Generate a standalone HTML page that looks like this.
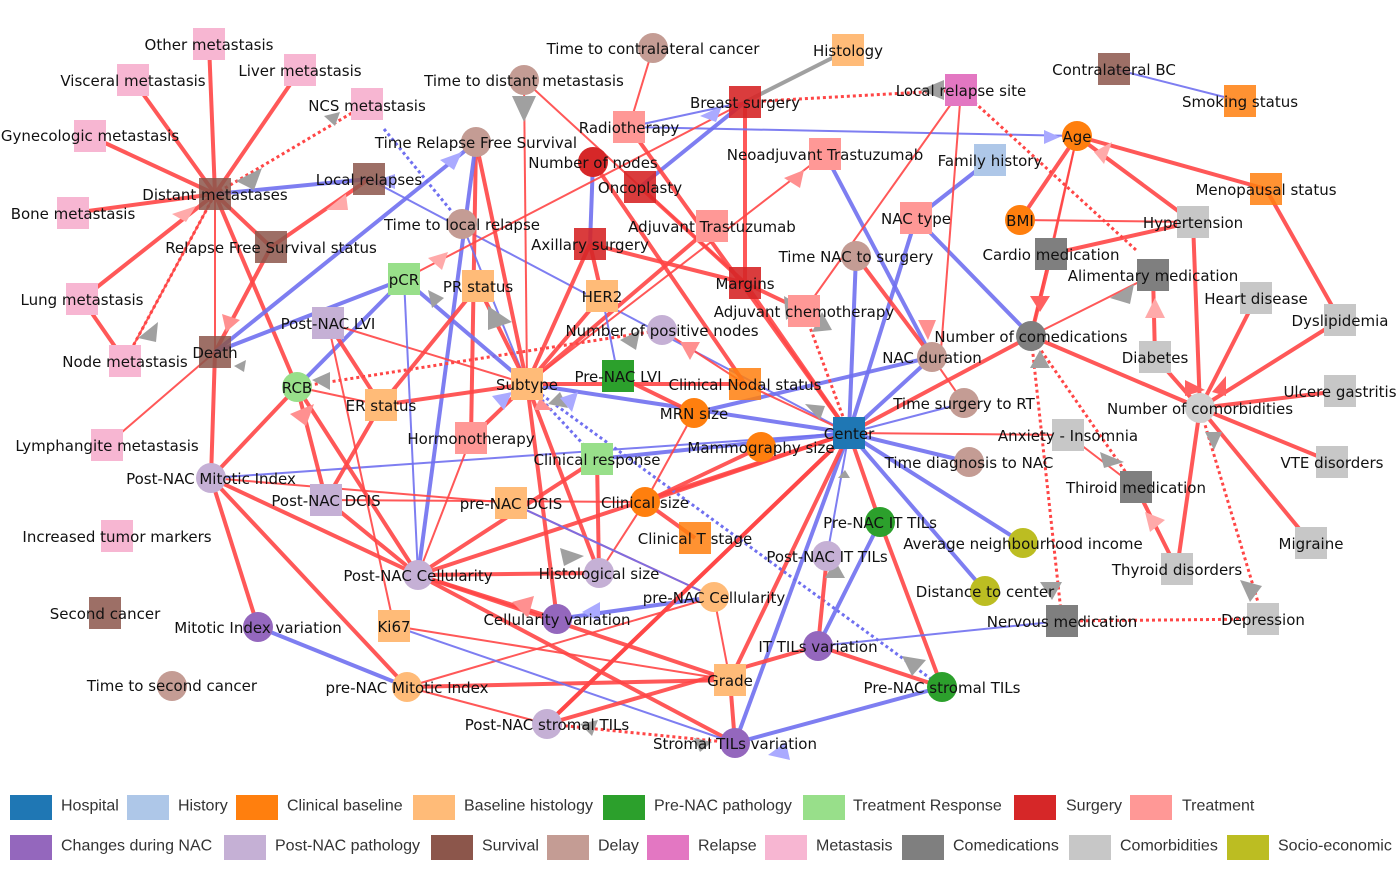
<!DOCTYPE html>
<html><head><meta charset="utf-8"><style>
html,body{margin:0;padding:0;background:#fff;}
svg{display:block}
.r{stroke:#ff4646;stroke-width:4;opacity:.9}
.r2{stroke:#ff4646;stroke-width:2;opacity:.9}
.b{stroke:#7070f0;stroke-width:4;opacity:.9}
.b2{stroke:#7070f0;stroke-width:2;opacity:.9}
.d{stroke:#ff4646;stroke-width:3;stroke-dasharray:3 3}
.bd{stroke:#7070f0;stroke-width:3;stroke-dasharray:3 3}
.g{stroke:#a0a0a0;stroke-width:4}
text{font-family:"DejaVu Sans",sans-serif;font-size:15px;fill:#111;text-anchor:middle;dominant-baseline:central}
.lg text{font-family:"Liberation Sans",sans-serif;font-size:16px;text-anchor:start;fill:#333}
</style></head><body>
<svg width="1400" height="872" viewBox="0 0 1400 872">
<g fill="none">
<line class="r" x1="209" y1="44" x2="215" y2="194"/>
<line class="r" x1="133" y1="80" x2="215" y2="194"/>
<line class="r" x1="300" y1="70" x2="215" y2="194"/>
<line class="r" x1="90" y1="136" x2="215" y2="194"/>
<line class="r" x1="73" y1="213" x2="215" y2="194"/>
<line class="r" x1="82" y1="299" x2="215" y2="194"/>
<line class="r" x1="82" y1="299" x2="125" y2="361"/>
<line class="d" x1="125" y1="361" x2="215" y2="194"/>
<line class="d" x1="367" y1="104" x2="215" y2="194"/>
<line class="r" x1="215" y1="194" x2="297" y2="387"/>
<line class="r2" x1="215" y1="194" x2="215" y2="352"/>
<line class="r" x1="215" y1="194" x2="271" y2="247"/>
<line class="b" x1="215" y1="194" x2="369" y2="179"/>
<line class="r2" x1="107" y1="445" x2="215" y2="352"/>
<line class="r" x1="215" y1="352" x2="211" y2="478"/>
<line class="r" x1="215" y1="352" x2="271" y2="247"/>
<line class="r" x1="271" y1="247" x2="369" y2="179"/>
<line class="b2" x1="369" y1="179" x2="849" y2="433"/>
<line class="bd" x1="384" y1="129" x2="462" y2="224"/>
<line class="b" x1="215" y1="352" x2="476" y2="142"/>
<line class="b" x1="297" y1="387" x2="404" y2="279"/>
<line class="b" x1="215" y1="352" x2="404" y2="279"/>
<line class="r" x1="476" y1="142" x2="527" y2="384"/>
<line class="r" x1="476" y1="142" x2="471" y2="438"/>
<line class="b" x1="476" y1="142" x2="418" y2="575"/>
<line class="b2" x1="462" y1="224" x2="527" y2="384"/>
<line class="r2" x1="524" y1="80" x2="745" y2="283"/>
<line class="r2" x1="524" y1="80" x2="527" y2="384"/>
<line class="g" x1="848" y1="50" x2="745" y2="102"/>
<line class="d" x1="745" y1="102" x2="961" y2="90"/>
<line class="r" x1="745" y1="102" x2="745" y2="283"/>
<line class="b" x1="745" y1="102" x2="640" y2="187"/>
<line class="b2" x1="629" y1="127" x2="745" y2="102"/>
<line class="b2" x1="629" y1="127" x2="1077" y2="136"/>
<line class="r2" x1="653" y1="48" x2="629" y2="127"/>
<line class="r" x1="629" y1="127" x2="849" y2="433"/>
<line class="b2" x1="1114" y1="69" x2="1240" y2="101"/>
<line class="r" x1="1077" y1="136" x2="1266" y2="189"/>
<line class="r" x1="1077" y1="136" x2="1020" y2="220"/>
<line class="r" x1="1077" y1="136" x2="1193" y2="222"/>
<line class="r2" x1="1077" y1="136" x2="1031" y2="336"/>
<line class="r2" x1="1077" y1="136" x2="1051" y2="254"/>
<line class="r" x1="1266" y1="189" x2="1340" y2="320"/>
<line class="r2" x1="1020" y1="220" x2="1193" y2="222"/>
<line class="r" x1="1193" y1="222" x2="1051" y2="254"/>
<line class="r" x1="1193" y1="222" x2="1200" y2="408"/>
<line class="r" x1="1051" y1="254" x2="1031" y2="336"/>
<line class="r2" x1="1031" y1="336" x2="1153" y2="275"/>
<line class="r" x1="1155" y1="357" x2="1153" y2="275"/>
<line class="r" x1="1200" y1="408" x2="1256" y2="298"/>
<line class="r" x1="1200" y1="408" x2="1340" y2="320"/>
<line class="r" x1="1200" y1="408" x2="1340" y2="391"/>
<line class="r" x1="1200" y1="408" x2="1332" y2="462"/>
<line class="r" x1="1200" y1="408" x2="1311" y2="543"/>
<line class="r" x1="1200" y1="408" x2="1177" y2="569"/>
<line class="r" x1="1200" y1="408" x2="1155" y2="357"/>
<line class="r" x1="1200" y1="408" x2="1031" y2="336"/>
<line class="d" x1="1200" y1="408" x2="1263" y2="619"/>
<line class="r2" x1="1068" y1="435" x2="1136" y2="487"/>
<line class="d" x1="1031" y1="336" x2="1062" y2="621"/>
<line class="d" x1="1031" y1="336" x2="1136" y2="487"/>
<line class="d" x1="1062" y1="621" x2="1263" y2="619"/>
<line class="r" x1="1177" y1="569" x2="1136" y2="487"/>
<line class="r2" x1="849" y1="433" x2="1068" y2="435"/>
<line class="r" x1="849" y1="433" x2="1031" y2="336"/>
<line class="b" x1="849" y1="433" x2="916" y2="218"/>
<line class="b" x1="849" y1="433" x2="856" y2="256"/>
<line class="b" x1="849" y1="433" x2="932" y2="357"/>
<line class="b2" x1="849" y1="433" x2="964" y2="403"/>
<line class="b" x1="849" y1="433" x2="969" y2="462"/>
<line class="b" x1="849" y1="433" x2="985" y2="591"/>
<line class="b" x1="849" y1="433" x2="1023" y2="543"/>
<line class="b" x1="849" y1="433" x2="527" y2="384"/>
<line class="b" x1="849" y1="433" x2="597" y2="459"/>
<line class="b" x1="849" y1="433" x2="735" y2="743"/>
<line class="b2" x1="849" y1="433" x2="827" y2="556"/>
<line class="b2" x1="849" y1="433" x2="211" y2="478"/>
<line class="b" x1="932" y1="357" x2="694" y2="413"/>
<line class="b" x1="916" y1="218" x2="990" y2="160"/>
<line class="b" x1="916" y1="218" x2="1031" y2="336"/>
<line class="b" x1="825" y1="154" x2="932" y2="357"/>
<line class="r" x1="856" y1="256" x2="932" y2="357"/>
<line class="r2" x1="964" y1="403" x2="932" y2="357"/>
<line class="r" x1="849" y1="433" x2="745" y2="283"/>
<line class="d" x1="849" y1="433" x2="804" y2="311"/>
<line class="r" x1="849" y1="433" x2="645" y2="502"/>
<line class="r" x1="849" y1="433" x2="547" y2="724"/>
<line class="r" x1="849" y1="433" x2="730" y2="680"/>
<line class="r" x1="849" y1="433" x2="418" y2="575"/>
<line class="r" x1="849" y1="433" x2="880" y2="522"/>
<line class="r2" x1="849" y1="433" x2="745" y2="384"/>
<line class="r" x1="745" y1="283" x2="804" y2="311"/>
<line class="r" x1="745" y1="283" x2="590" y2="244"/>
<line class="r" x1="590" y1="244" x2="602" y2="296"/>
<line class="r" x1="590" y1="244" x2="527" y2="384"/>
<line class="b" x1="590" y1="244" x2="593" y2="162"/>
<line class="r" x1="593" y1="162" x2="745" y2="384"/>
<line class="r" x1="640" y1="187" x2="745" y2="283"/>
<line class="r" x1="527" y1="384" x2="712" y2="226"/>
<line class="r2" x1="527" y1="384" x2="825" y2="154"/>
<line class="r2" x1="404" y1="279" x2="745" y2="102"/>
<line class="r" x1="527" y1="384" x2="381" y2="405"/>
<line class="r" x1="527" y1="384" x2="478" y2="286"/>
<line class="r" x1="527" y1="384" x2="602" y2="296"/>
<line class="r" x1="527" y1="384" x2="471" y2="438"/>
<line class="r" x1="527" y1="384" x2="599" y2="573"/>
<line class="r" x1="527" y1="384" x2="557" y2="619"/>
<line class="r2" x1="527" y1="384" x2="328" y2="323"/>
<line class="d" x1="297" y1="387" x2="662" y2="330"/>
<line class="r" x1="527" y1="384" x2="745" y2="384"/>
<line class="b" x1="527" y1="384" x2="404" y2="279"/>
<line class="bd" x1="527" y1="384" x2="942" y2="687"/>
<line class="bd" x1="597" y1="459" x2="527" y2="384"/>
<line class="b2" x1="602" y1="296" x2="618" y2="376"/>
<line class="r" x1="618" y1="376" x2="694" y2="413"/>
<line class="r2" x1="745" y1="384" x2="662" y2="330"/>
<line class="b2" x1="404" y1="279" x2="418" y2="575"/>
<line class="r" x1="381" y1="405" x2="478" y2="286"/>
<line class="r" x1="381" y1="405" x2="326" y2="500"/>
<line class="r2" x1="381" y1="405" x2="297" y2="387"/>
<line class="r" x1="297" y1="387" x2="326" y2="500"/>
<line class="r" x1="297" y1="387" x2="418" y2="575"/>
<line class="r" x1="297" y1="387" x2="211" y2="478"/>
<line class="r" x1="328" y1="323" x2="381" y2="405"/>
<line class="r" x1="418" y1="575" x2="599" y2="573"/>
<line class="r" x1="418" y1="575" x2="557" y2="619"/>
<line class="r" x1="418" y1="575" x2="730" y2="680"/>
<line class="r" x1="418" y1="575" x2="211" y2="478"/>
<line class="r" x1="418" y1="575" x2="326" y2="500"/>
<line class="r" x1="418" y1="575" x2="597" y2="459"/>
<line class="r" x1="418" y1="575" x2="735" y2="743"/>
<line class="r2" x1="418" y1="575" x2="471" y2="438"/>
<line class="r2" x1="326" y1="500" x2="645" y2="502"/>
<line class="r" x1="211" y1="478" x2="258" y2="627"/>
<line class="r" x1="211" y1="478" x2="407" y2="687"/>
<line class="r2" x1="211" y1="478" x2="511" y2="503"/>
<line class="b" x1="258" y1="627" x2="407" y2="687"/>
<line class="r" x1="407" y1="687" x2="730" y2="680"/>
<line class="r2" x1="407" y1="687" x2="547" y2="724"/>
<line class="r2" x1="407" y1="687" x2="714" y2="597"/>
<line class="r2" x1="394" y1="626" x2="730" y2="680"/>
<line class="b2" x1="394" y1="626" x2="735" y2="743"/>
<line class="r2" x1="394" y1="626" x2="328" y2="323"/>
<line class="r2" x1="645" y1="502" x2="694" y2="413"/>
<line class="r" x1="645" y1="502" x2="761" y2="447"/>
<line class="r" x1="645" y1="502" x2="695" y2="538"/>
<line class="r2" x1="645" y1="502" x2="599" y2="573"/>
<line class="r" x1="597" y1="459" x2="599" y2="573"/>
<line class="r2" x1="511" y1="503" x2="714" y2="597"/>
<line class="b2" x1="511" y1="503" x2="714" y2="597"/>
<line class="r2" x1="714" y1="597" x2="730" y2="680"/>
<line class="b" x1="714" y1="597" x2="557" y2="619"/>
<line class="r" x1="942" y1="687" x2="818" y2="646"/>
<line class="r" x1="942" y1="687" x2="880" y2="522"/>
<line class="b" x1="942" y1="687" x2="735" y2="743"/>
<line class="b" x1="818" y1="646" x2="880" y2="522"/>
<line class="r" x1="818" y1="646" x2="827" y2="556"/>
<line class="b2" x1="818" y1="646" x2="1062" y2="621"/>
<line class="r" x1="818" y1="646" x2="547" y2="724"/>
<line class="r" x1="735" y1="743" x2="730" y2="680"/>
<line class="d" x1="547" y1="724" x2="735" y2="743"/>
<line class="r" x1="547" y1="724" x2="849" y2="433"/>
<line class="r2" x1="125" y1="361" x2="215" y2="194"/>
<line class="d" x1="961" y1="90" x2="1136" y2="250"/>
<line class="r2" x1="961" y1="90" x2="941" y2="350"/>
<line class="r2" x1="804" y1="311" x2="961" y2="90"/>
</g>
<g>
<polygon fill="#a0a0a0" points="236,181 262,168 254,190"/>
<polygon fill="#a0a0a0" points="324,116 335,126 340,112"/>
<polygon fill="#a0a0a0" points="138,338 158,322 156,342"/>
<polygon fill="#ffaaaa" points="326,210 346,194 348,210"/>
<polygon fill="#aaaaff" points="440,160 462,152 454,170"/>
<polygon fill="#a0a0a0" points="512,96 536,96 524,122"/>
<polygon fill="#aaaaff" points="700,116 722,106 716,122"/>
<polygon fill="#a0a0a0" points="920,90 944,80 944,100"/>
<polygon fill="#aaaaff" points="1044,130 1060,137 1044,144"/>
<polygon fill="#ffaaaa" points="1094,152 1112,142 1104,164"/>
<polygon fill="#a0a0a0" points="1110,298 1134,284 1130,304"/>
<polygon fill="#ffaaaa" points="1145,318 1165,318 1155,298"/>
<polygon fill="#ff6060" points="1030,296 1050,296 1040,312"/>
<polygon fill="#a0a0a0" points="1030,368 1050,368 1040,350"/>
<polygon fill="#ffaaaa" points="1145,512 1165,520 1150,532"/>
<polygon fill="#a0a0a0" points="1100,452 1124,462 1104,468"/>
<polygon fill="#a0a0a0" points="1040,582 1062,582 1052,600"/>
<polygon fill="#a0a0a0" points="1240,580 1262,586 1250,602"/>
<polygon fill="#ff6060" points="1185,380 1205,390 1185,396"/>
<polygon fill="#ff6060" points="1226,376 1226,396 1212,392"/>
<polygon fill="#a0a0a0" points="1205,432 1222,432 1214,450"/>
<polygon fill="#ff9090" points="918,320 936,320 928,340"/>
<polygon fill="#a0a0a0" points="812,332 832,330 822,312"/>
<polygon fill="#a0a0a0" points="805,404 825,406 820,420"/>
<polygon fill="#a0a0a0" points="488,306 512,322 488,330"/>
<polygon fill="#a0a0a0" points="428,290 444,298 432,308"/>
<polygon fill="#ff9090" points="222,314 240,320 226,332"/>
<polygon fill="#a0a0a0" points="312,380 330,372 330,390"/>
<polygon fill="#a0a0a0" points="234,366 246,360 244,372"/>
<polygon fill="#ffaaaa" points="172,214 196,206 186,222"/>
<polygon fill="#ff9090" points="290,414 314,404 306,426"/>
<polygon fill="#aaaaff" points="492,396 512,392 504,410"/>
<polygon fill="#a0a0a0" points="548,404 560,392 568,408"/>
<polygon fill="#aaaaff" points="560,398 578,392 572,412"/>
<polygon fill="#a0a0a0" points="620,340 640,330 636,350"/>
<polygon fill="#ff9090" points="680,342 700,342 690,360"/>
<polygon fill="#a0a0a0" points="560,548 584,556 564,566"/>
<polygon fill="#ff9090" points="512,602 534,596 528,618"/>
<polygon fill="#aaaaff" points="582,612 600,602 600,622"/>
<polygon fill="#a0a0a0" points="902,656 926,660 912,676"/>
<polygon fill="#a0a0a0" points="580,724 598,720 592,736"/>
<polygon fill="#a0a0a0" points="694,738 712,742 700,752"/>
<polygon fill="#aaaaff" points="768,755 786,742 790,760"/>
<polygon fill="#a0a0a0" points="784,296 804,308 786,320"/>
<polygon fill="#ff9090" points="784,178 804,170 800,188"/>
<polygon fill="#ffaaaa" points="428,258 448,252 442,270"/>
<polygon fill="#aaaaff" points="375,181 395,174 395,189"/>
<polygon fill="#a0a0a0" points="825,578 845,578 835,560"/>
<polygon fill="#a0a0a0" points="838,478 850,478 845,470"/>
<polygon fill="#ff9090" points="540,398 552,410 534,410"/>
</g>
<g>
<rect x="193" y="28" width="32" height="32" fill="#f7b6d2"/>
<rect x="117" y="64" width="32" height="32" fill="#f7b6d2"/>
<rect x="284" y="54" width="32" height="32" fill="#f7b6d2"/>
<rect x="351" y="88" width="32" height="32" fill="#f7b6d2"/>
<rect x="74" y="120" width="32" height="32" fill="#f7b6d2"/>
<rect x="199" y="178" width="32" height="32" fill="#8c564b" opacity=".85"/>
<rect x="57" y="197" width="32" height="32" fill="#f7b6d2"/>
<rect x="255" y="231" width="32" height="32" fill="#8c564b" opacity=".85"/>
<rect x="353" y="163" width="32" height="32" fill="#8c564b" opacity=".85"/>
<rect x="66" y="283" width="32" height="32" fill="#f7b6d2"/>
<rect x="109" y="345" width="32" height="32" fill="#f7b6d2"/>
<rect x="199" y="336" width="32" height="32" fill="#8c564b" opacity=".85"/>
<rect x="91" y="429" width="32" height="32" fill="#f7b6d2"/>
<rect x="101" y="520" width="32" height="32" fill="#f7b6d2"/>
<rect x="89" y="597" width="32" height="32" fill="#8c564b" opacity=".85"/>
<circle cx="172" cy="686" r="15" fill="#c49c94"/>
<circle cx="211" cy="478" r="15" fill="#c5b0d5"/>
<circle cx="258" cy="627" r="15" fill="#9467bd"/>
<circle cx="297" cy="387" r="15" fill="#98df8a"/>
<rect x="312" y="307" width="32" height="32" fill="#c5b0d5"/>
<rect x="388" y="263" width="32" height="32" fill="#98df8a"/>
<rect x="462" y="270" width="32" height="32" fill="#ffbb78"/>
<circle cx="462" cy="224" r="15" fill="#c49c94"/>
<circle cx="476" cy="142" r="15" fill="#c49c94"/>
<circle cx="524" cy="80" r="15" fill="#c49c94"/>
<circle cx="653" cy="48" r="15" fill="#c49c94"/>
<rect x="832" y="34" width="32" height="32" fill="#ffbb78"/>
<rect x="729" y="86" width="32" height="32" fill="#d62728" opacity=".9"/>
<rect x="945" y="74" width="32" height="32" fill="#e377c2"/>
<rect x="1098" y="53" width="32" height="32" fill="#8c564b" opacity=".85"/>
<rect x="1224" y="85" width="32" height="32" fill="#ff7f0e" opacity=".85"/>
<circle cx="1077" cy="136" r="15" fill="#ff7f0e"/>
<rect x="613" y="111" width="32" height="32" fill="#ff9896"/>
<circle cx="593" cy="162" r="15" fill="#d62728"/>
<rect x="624" y="171" width="32" height="32" fill="#d62728" opacity=".9"/>
<rect x="809" y="138" width="32" height="32" fill="#ff9896"/>
<rect x="974" y="144" width="32" height="32" fill="#aec7e8"/>
<rect x="1250" y="173" width="32" height="32" fill="#ff7f0e" opacity=".85"/>
<circle cx="1020" cy="220" r="15" fill="#ff7f0e"/>
<rect x="1177" y="206" width="32" height="32" fill="#c7c7c7"/>
<rect x="900" y="202" width="32" height="32" fill="#ff9896"/>
<rect x="696" y="210" width="32" height="32" fill="#ff9896"/>
<rect x="574" y="228" width="32" height="32" fill="#d62728" opacity=".9"/>
<circle cx="856" cy="256" r="15" fill="#c49c94"/>
<rect x="1035" y="238" width="32" height="32" fill="#7f7f7f"/>
<rect x="1137" y="259" width="32" height="32" fill="#7f7f7f"/>
<rect x="1240" y="282" width="32" height="32" fill="#c7c7c7"/>
<rect x="1324" y="304" width="32" height="32" fill="#c7c7c7"/>
<rect x="586" y="280" width="32" height="32" fill="#ffbb78"/>
<rect x="729" y="267" width="32" height="32" fill="#d62728" opacity=".9"/>
<rect x="788" y="295" width="32" height="32" fill="#ff9896"/>
<circle cx="662" cy="330" r="15" fill="#c5b0d5"/>
<circle cx="1031" cy="336" r="15" fill="#7f7f7f"/>
<rect x="1139" y="341" width="32" height="32" fill="#c7c7c7"/>
<circle cx="932" cy="357" r="15" fill="#c49c94"/>
<rect x="511" y="368" width="32" height="32" fill="#ffbb78"/>
<rect x="602" y="360" width="32" height="32" fill="#2ca02c"/>
<rect x="729" y="368" width="32" height="32" fill="#ff7f0e" opacity=".85"/>
<rect x="365" y="389" width="32" height="32" fill="#ffbb78"/>
<circle cx="694" cy="413" r="15" fill="#ff7f0e"/>
<circle cx="964" cy="403" r="15" fill="#c49c94"/>
<circle cx="1200" cy="408" r="15" fill="#d0d0d0"/>
<rect x="1324" y="375" width="32" height="32" fill="#c7c7c7"/>
<rect x="833" y="417" width="32" height="32" fill="#1f77b4"/>
<rect x="1052" y="419" width="32" height="32" fill="#c7c7c7"/>
<rect x="455" y="422" width="32" height="32" fill="#ff9896"/>
<circle cx="761" cy="447" r="15" fill="#ff7f0e"/>
<rect x="581" y="443" width="32" height="32" fill="#98df8a"/>
<circle cx="969" cy="462" r="15" fill="#c49c94"/>
<rect x="1316" y="446" width="32" height="32" fill="#c7c7c7"/>
<rect x="1120" y="471" width="32" height="32" fill="#7f7f7f"/>
<rect x="310" y="484" width="32" height="32" fill="#c5b0d5"/>
<rect x="495" y="487" width="32" height="32" fill="#ffbb78"/>
<circle cx="645" cy="502" r="15" fill="#ff7f0e"/>
<circle cx="880" cy="522" r="15" fill="#2ca02c"/>
<rect x="679" y="522" width="32" height="32" fill="#ff7f0e" opacity=".85"/>
<circle cx="1023" cy="543" r="15" fill="#bcbd22"/>
<rect x="1295" y="527" width="32" height="32" fill="#c7c7c7"/>
<circle cx="827" cy="556" r="15" fill="#c5b0d5"/>
<rect x="1161" y="553" width="32" height="32" fill="#c7c7c7"/>
<circle cx="418" cy="575" r="15" fill="#c5b0d5"/>
<circle cx="599" cy="573" r="15" fill="#c5b0d5"/>
<circle cx="985" cy="591" r="15" fill="#bcbd22"/>
<circle cx="714" cy="597" r="15" fill="#ffbb78"/>
<circle cx="557" cy="619" r="15" fill="#9467bd"/>
<rect x="378" y="610" width="32" height="32" fill="#ffbb78"/>
<rect x="1046" y="605" width="32" height="32" fill="#7f7f7f"/>
<rect x="1247" y="603" width="32" height="32" fill="#c7c7c7"/>
<circle cx="818" cy="646" r="15" fill="#9467bd"/>
<rect x="714" y="664" width="32" height="32" fill="#ffbb78"/>
<circle cx="407" cy="687" r="15" fill="#ffbb78"/>
<circle cx="942" cy="687" r="15" fill="#2ca02c"/>
<circle cx="547" cy="724" r="15" fill="#c5b0d5"/>
<circle cx="735" cy="743" r="15" fill="#9467bd"/>
</g>
<g>
<text x="209" y="45">Other metastasis</text>
<text x="133" y="81">Visceral metastasis</text>
<text x="300" y="71">Liver metastasis</text>
<text x="367" y="106">NCS metastasis</text>
<text x="90" y="136">Gynecologic metastasis</text>
<text x="215" y="195">Distant metastases</text>
<text x="73" y="214">Bone metastasis</text>
<text x="271" y="248">Relapse Free Survival status</text>
<text x="369" y="180">Local relapses</text>
<text x="82" y="300">Lung metastasis</text>
<text x="125" y="362">Node metastasis</text>
<text x="215" y="353">Death</text>
<text x="107" y="446">Lymphangite metastasis</text>
<text x="117" y="537">Increased tumor markers</text>
<text x="105" y="614">Second cancer</text>
<text x="172" y="686">Time to second cancer</text>
<text x="211" y="479">Post-NAC Mitotic Index</text>
<text x="258" y="628">Mitotic Index variation</text>
<text x="297" y="388">RCB</text>
<text x="328" y="324">Post-NAC LVI</text>
<text x="404" y="280">pCR</text>
<text x="478" y="287">PR status</text>
<text x="462" y="225">Time to local relapse</text>
<text x="476" y="143">Time Relapse Free Survival</text>
<text x="524" y="81">Time to distant metastasis</text>
<text x="653" y="49">Time to contralateral cancer</text>
<text x="848" y="51">Histology</text>
<text x="745" y="103">Breast surgery</text>
<text x="961" y="91">Local relapse site</text>
<text x="1114" y="70">Contralateral BC</text>
<text x="1240" y="102">Smoking status</text>
<text x="1077" y="137">Age</text>
<text x="629" y="128">Radiotherapy</text>
<text x="593" y="163">Number of nodes</text>
<text x="640" y="188">Oncoplasty</text>
<text x="825" y="155">Neoadjuvant Trastuzumab</text>
<text x="990" y="161">Family history</text>
<text x="1266" y="190">Menopausal status</text>
<text x="1020" y="221">BMI</text>
<text x="1193" y="223">Hypertension</text>
<text x="916" y="219">NAC type</text>
<text x="712" y="227">Adjuvant Trastuzumab</text>
<text x="590" y="245">Axillary surgery</text>
<text x="856" y="257">Time NAC to surgery</text>
<text x="1051" y="255">Cardio medication</text>
<text x="1153" y="276">Alimentary medication</text>
<text x="1256" y="299">Heart disease</text>
<text x="1340" y="321">Dyslipidemia</text>
<text x="602" y="297">HER2</text>
<text x="745" y="284">Margins</text>
<text x="804" y="312">Adjuvant chemotherapy</text>
<text x="662" y="331">Number of positive nodes</text>
<text x="1031" y="337">Number of comedications</text>
<text x="1155" y="358">Diabetes</text>
<text x="932" y="358">NAC duration</text>
<text x="527" y="385">Subtype</text>
<text x="618" y="377">Pre-NAC LVI</text>
<text x="745" y="385">Clinical Nodal status</text>
<text x="381" y="406">ER status</text>
<text x="694" y="414">MRN size</text>
<text x="964" y="404">Time surgery to RT</text>
<text x="1200" y="409">Number of comorbidities</text>
<text x="1340" y="392">Ulcere gastritis</text>
<text x="849" y="434">Center</text>
<text x="1068" y="436">Anxiety - Insomnia</text>
<text x="471" y="439">Hormonotherapy</text>
<text x="761" y="448">Mammography size</text>
<text x="597" y="460">Clinical response</text>
<text x="969" y="463">Time diagnosis to NAC</text>
<text x="1332" y="463">VTE disorders</text>
<text x="1136" y="488">Thiroid medication</text>
<text x="326" y="501">Post-NAC DCIS</text>
<text x="511" y="504">pre-NAC DCIS</text>
<text x="645" y="503">Clinical size</text>
<text x="880" y="523">Pre-NAC IT TILs</text>
<text x="695" y="539">Clinical T stage</text>
<text x="1023" y="544">Average neighbourhood income</text>
<text x="1311" y="544">Migraine</text>
<text x="827" y="557">Post-NAC IT TILs</text>
<text x="1177" y="570">Thyroid disorders</text>
<text x="418" y="576">Post-NAC Cellularity</text>
<text x="599" y="574">Histological size</text>
<text x="985" y="592">Distance to center</text>
<text x="714" y="598">pre-NAC Cellularity</text>
<text x="557" y="620">Cellularity variation</text>
<text x="394" y="627">Ki67</text>
<text x="1062" y="622">Nervous medication</text>
<text x="1263" y="620">Depression</text>
<text x="818" y="647">IT TILs variation</text>
<text x="730" y="681">Grade</text>
<text x="407" y="688">pre-NAC Mitotic Index</text>
<text x="942" y="688">Pre-NAC stromal TILs</text>
<text x="547" y="725">Post-NAC stromal TILs</text>
<text x="735" y="744">Stromal TILs variation</text>
</g>
<g class="lg">
<rect x="10" y="795" width="42" height="25" fill="#1f77b4"/><text x="61" y="806">Hospital</text>
<rect x="127" y="795" width="42" height="25" fill="#aec7e8"/><text x="178" y="806">History</text>
<rect x="236" y="795" width="42" height="25" fill="#ff7f0e"/><text x="287" y="806">Clinical baseline</text>
<rect x="413" y="795" width="42" height="25" fill="#ffbb78"/><text x="464" y="806">Baseline histology</text>
<rect x="603" y="795" width="42" height="25" fill="#2ca02c"/><text x="654" y="806">Pre-NAC pathology</text>
<rect x="803" y="795" width="42" height="25" fill="#98df8a"/><text x="853" y="806">Treatment Response</text>
<rect x="1014" y="795" width="42" height="25" fill="#d62728"/><text x="1066" y="806">Surgery</text>
<rect x="1130" y="795" width="42" height="25" fill="#ff9896"/><text x="1182" y="806">Treatment</text>
<rect x="10" y="835" width="42" height="25" fill="#9467bd"/><text x="61" y="846">Changes during NAC</text>
<rect x="224" y="835" width="42" height="25" fill="#c5b0d5"/><text x="275" y="846">Post-NAC pathology</text>
<rect x="431" y="835" width="42" height="25" fill="#8c564b"/><text x="482" y="846">Survival</text>
<rect x="547" y="835" width="42" height="25" fill="#c49c94"/><text x="598" y="846">Delay</text>
<rect x="647" y="835" width="42" height="25" fill="#e377c2"/><text x="698" y="846">Relapse</text>
<rect x="765" y="835" width="42" height="25" fill="#f7b6d2"/><text x="816" y="846">Metastasis</text>
<rect x="902" y="835" width="42" height="25" fill="#7f7f7f"/><text x="953" y="846">Comedications</text>
<rect x="1069" y="835" width="42" height="25" fill="#c7c7c7"/><text x="1120" y="846">Comorbidities</text>
<rect x="1227" y="835" width="42" height="25" fill="#bcbd22"/><text x="1278" y="846">Socio-economic</text>
</g>
</svg>
</body></html>
